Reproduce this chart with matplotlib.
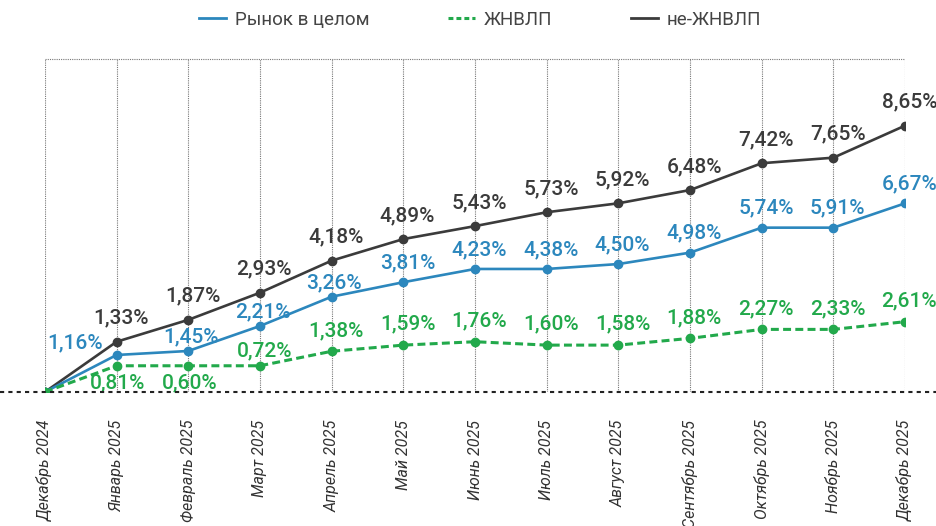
import matplotlib
matplotlib.use("Agg")
import matplotlib.pyplot as plt
from matplotlib.lines import Line2D

plt.rcParams['font.family'] = ['Roboto', 'DejaVu Sans']

# ---------------- data ----------------
months = ['Декабрь 2024', 'Январь 2025', 'Февраль 2025', 'Март 2025',
          'Апрель 2025', 'Май 2025', 'Июнь 2025', 'Июль 2025',
          'Август 2025', 'Сентябрь 2025', 'Октябрь 2025', 'Ноябрь 2025',
          'Декабрь 2025']
series_names = ['Рынок в целом', 'ЖНВЛП', 'не-ЖНВЛП']

# printed values (data labels)
market_lbl = [0, 1.16, 1.45, 2.21, 3.26, 3.81, 4.23, 4.38, 4.50, 4.98, 5.74, 5.91, 6.67]
vital_lbl = [0, 0.81, 0.60, 0.72, 1.38, 1.59, 1.76, 1.60, 1.58, 1.88, 2.27, 2.33, 2.61]
non_vital_lbl = [0, 1.33, 1.87, 2.93, 4.18, 4.89, 5.43, 5.73, 5.92, 6.48, 7.42, 7.65, 8.65]

# line heights as drawn in the source chart (they do not follow the labels exactly)
market = [0, 1.20, 1.33, 2.14, 3.09, 3.56, 3.99, 3.99, 4.15, 4.52, 5.33, 5.33, 6.12]
vital = [0, 0.85, 0.85, 0.85, 1.32, 1.52, 1.63, 1.52, 1.52, 1.74, 2.03, 2.03, 2.28]
non_vital = [0, 1.63, 2.34, 3.22, 4.26, 4.96, 5.38, 5.83, 6.12, 6.55, 7.42, 7.60, 8.64]

BLUE = '#2c87bd'
GREEN = '#22a94b'
DARK = '#3b3b3b'

fig = plt.figure(figsize=(9.36, 5.26), dpi=100)
ax = fig.add_axes([0.048, 0.2548, 0.919, 0.633])

x = list(range(len(months)))

ax.plot(x, non_vital, color=DARK, lw=1.9, marker='o', ms=6, zorder=3)
ax.plot(x, market, color=BLUE, lw=1.9, marker='o', ms=6, zorder=4)
ax.plot(x, vital, color=GREEN, lw=2.2, ls=(0, (2.6, 1.4)), marker='o', ms=6, zorder=5)

ax.set_xlim(0, 12)
ax.set_ylim(0, 10.8)

# grid / frame
for xi in x:
    ax.axvline(xi, color='#777777', lw=0.8, ls=(0, (1, 1)), zorder=1)
ax.axhline(10.8, color='#777777', lw=0.8, ls=(0, (1, 1)), zorder=1, clip_on=False)
for s in ax.spines.values():
    s.set_visible(False)
ax.set_yticks([])
ax.set_xticks(x)
ax.set_xticklabels(months, rotation=90, style='italic', fontsize=11.5, color='#333333')
ax.tick_params(axis='x', length=0, pad=20)

# baseline across whole figure
y0 = 0.2548
fig.add_artist(Line2D([0, 1], [y0, y0], transform=fig.transFigure,
                      color='#222222', lw=1.5, ls=(0, (2, 2)), zorder=10))

lab_fs = 15


def fmt(v):
    return f'{v:.2f}%'.replace('.', ',')


def label(txt, xi, yi, dx, dy, col):
    ax.annotate(txt, (xi, yi), xytext=(dx, dy), textcoords='offset points',
                ha='center', va='center', color=col, fontsize=lab_fs,
                fontweight='medium')


for i in x[1:]:
    label(fmt(non_vital_lbl[i]), i, non_vital[i], 3, 17, DARK)

    if i == 1:
        label(fmt(market_lbl[i]), i, market[i], -30, 9, BLUE)
    elif i <= 4:
        label(fmt(market_lbl[i]), i, market[i], 2, 10, BLUE)
    else:
        label(fmt(market_lbl[i]), i, market[i], 3, 14, BLUE)

    if i in (1, 2):
        label(fmt(vital_lbl[i]), i, vital[i], 1, -12, GREEN)
    elif i == 3:
        label(fmt(vital_lbl[i]), i, vital[i], 3, 11, GREEN)
    else:
        label(fmt(vital_lbl[i]), i, vital[i], 3, 15, GREEN)

handles = [Line2D([], [], color=BLUE, lw=2),
           Line2D([], [], color=GREEN, lw=2.2, ls=(0, (1.6, 1.0))),
           Line2D([], [], color=DARK, lw=2)]
fig.legend(handles, series_names, loc='center',
           bbox_to_anchor=(0.5 + 12 / 936, 1 - 20 / 526),
           ncol=3, frameon=False, fontsize=13.5, labelcolor='#444444',
           handlelength=1.45, handletextpad=0.45, columnspacing=4.2)

fig.savefig('out.png', dpi=100)
